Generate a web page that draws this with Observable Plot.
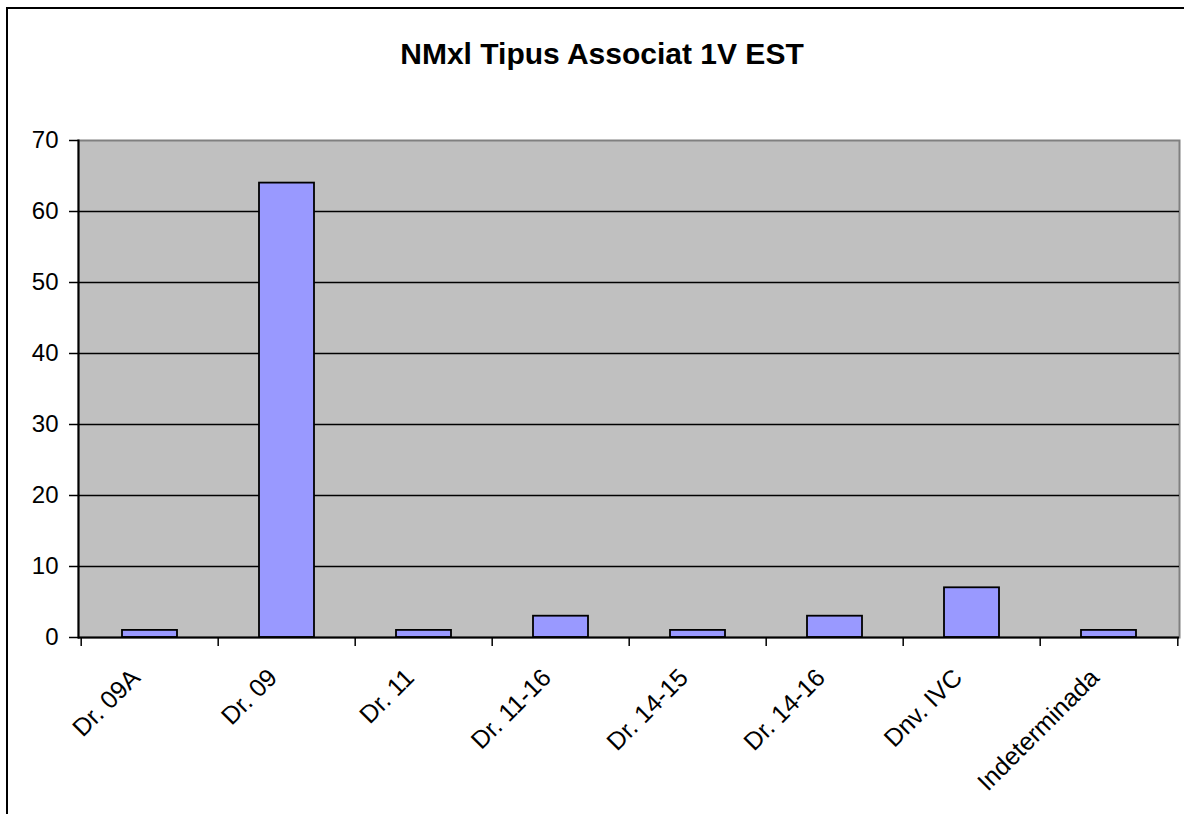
<!DOCTYPE html>
<html>
<head>
<meta charset="utf-8">
<script src="https://cdn.jsdelivr.net/npm/d3@7"></script>
<script src="https://cdn.jsdelivr.net/npm/@observablehq/plot@0.6"></script>
<style>
  html, body { margin: 0; padding: 0; background: #fff; }
  #wrap { position: relative; width: 1184px; height: 814px; overflow: hidden; font-family: "Liberation Sans", Arial, sans-serif; }
  #border { position: absolute; left: 6px; top: 7px; width: 1200px; height: 840px; border: 2px solid #000; box-sizing: border-box; pointer-events: none; }
  #title { position: absolute; left: 0; width: 1204px; top: 37px; text-align: center; font-weight: bold; font-size: 30px; line-height: 34px; color: #000; }
  #chart { position: absolute; left: 0; top: 0; }
</style>
</head>
<body>
<div id="wrap">
  <div id="chart"></div>
  <div id="border"></div>
  <div id="title">NMxl Tipus Associat 1V EST</div>
</div>
<script>
const categories = ["Dr. 09A", "Dr. 09", "Dr. 11", "Dr. 11-16", "Dr. 14-15", "Dr. 14-16", "Dnv. IVC", "Indeterminada"];
const counts = [1, 64, 1, 3, 1, 3, 7, 1];
const yTicks = [0, 10, 20, 30, 40, 50, 60, 70];
const gridTicks = [10, 20, 30, 40, 50, 60];

const data = categories.map((c, i) => ({category: c, count: counts[i]}));
const half = (1179 - 78) / categories.length / 2;

const chart = Plot.plot({
  width: 1184,
  height: 814,
  marginLeft: 78,
  marginRight: 5,
  marginTop: 140,
  marginBottom: 177,
  style: {fontFamily: "'Liberation Sans', Arial, sans-serif", fontSize: "24px", color: "#000", background: "transparent"},
  x: {domain: categories, paddingInner: 0.6, paddingOuter: 0.3, axis: null},
  y: {domain: [0, 70], axis: null},
  marks: [
    Plot.frame({fill: "#C0C0C0", stroke: "#808080", strokeWidth: 2}),
    Plot.gridY(gridTicks, {stroke: "#000", strokeOpacity: 1, strokeWidth: 1.5}),
    Plot.barY(data, {x: "category", y: "count", fill: "#9999FF", stroke: "#000", strokeWidth: 1.8}),
    Plot.frame({anchor: "left", stroke: "#000", strokeWidth: 2}),
    Plot.ruleY([0], {stroke: "#000", strokeWidth: 2}),
    Plot.axisY(yTicks, {tickSize: 9, tickPadding: 11, fontSize: 24, strokeWidth: 1.5, label: null}),
    Plot.axisX({text: null, tickSize: 9, strokeWidth: 1.5, dx: -half, label: null}),
    Plot.axisX([categories[categories.length - 1]], {text: null, tickSize: 9, strokeWidth: 1.5, dx: half, label: null}),
    Plot.axisX({tickSize: 0, tickRotate: -45, tickPadding: 10, fontSize: 25, label: null, dx: -14, dy: 26})
  ]
});
document.getElementById("chart").appendChild(chart);
</script>
</body>
</html>
